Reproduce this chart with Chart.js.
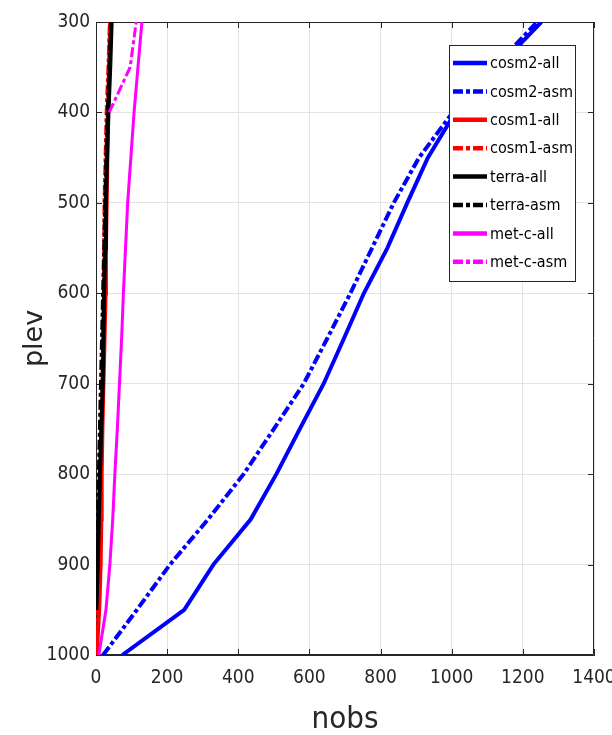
<!DOCTYPE html>
<html>
<head>
<meta charset="utf-8">
<script src="https://cdn.jsdelivr.net/npm/chart.js@4.4.1/dist/chart.umd.min.js"></script>
<style>
  html, body { margin: 0; padding: 0; background: #fff; }
  #wrap { width: 612px; height: 735px; position: relative; }
</style>
</head>
<body>
<div id="wrap"><canvas id="chart"></canvas></div>
<script>
// pressure levels (hPa) and number of observations per series
const levels = [1000, 950, 900, 850, 800, 750, 700, 650, 600, 550, 500, 450, 400, 350, 300];
const cosm2All = [74, 248, 330, 435, 507, 573, 640, 697, 753, 819, 875, 933, 1010, 1130, 1252];
const cosm2Asm = [20, 115, 208, 315, 415, 500, 584, 650, 715, 776, 837, 908, 1003, 1120, 1240];
const cosm1All = [2, 9, 13, 15, 16, 18, 21, 24, 27, 28, 30, 32, 34, 37, 40];
const cosm1Asm = [0, 6, 10, 12, 13, 16, 18, 20, 22, 23, 24, 27, 30, 35, 39];
const terraAll = [null, 1, 5, 8, 11, 15, 19, 21, 23, 26, 28, 31, 35, 40, 44];
const terraAsm = [null, 0, 3, 5, 8, 11, 14, 17, 20, 23, 26, 29, 33, 38, 42];
const metcAll = [8, 28, 39, 47, 53, 60, 66, 72, 77, 83, 89, 98, 107, 118, 129];
const metcAsm = [null, null, null, null, null, null, null, null, null, null, null, null, 37, 96, 113];

const seriesNames = ['cosm2-all', 'cosm2-asm', 'cosm1-all', 'cosm1-asm', 'terra-all', 'terra-asm', 'met-c-all', 'met-c-asm'];
const seriesValues = [cosm2All, cosm2Asm, cosm1All, cosm1Asm, terraAll, terraAsm, metcAll, metcAsm];
const seriesColors = ['#0000ff', '#0000ff', '#ff0000', '#ff0000', '#000000', '#000000', '#ff00ff', '#ff00ff'];

const xTicks = [0, 200, 400, 600, 800, 1000, 1200, 1400];
const yTicks = [300, 400, 500, 600, 700, 800, 900, 1000];

const dashDot = [10, 3, 4, 3];
const narrow = "'Liberation Sans Narrow', 'DejaVu Sans Condensed', 'Arial Narrow', sans-serif";
const axisColor = '#262626';

function toPoints(vals) {
    const pts = [];
    vals.forEach(function(v, i) {
        if (v !== null) pts.push({x: v, y: levels[i]});
    });
    return pts;
}

const datasets = seriesNames.map(function(name, i) {
    const isAsm = name.endsWith('asm');
    return {
        label: name,
        data: toPoints(seriesValues[i]),
        borderColor: seriesColors[i],
        backgroundColor: seriesColors[i],
        borderWidth: name.startsWith('met') ? 3 : 4,
        borderDash: isAsm ? dashDot : [],
        pointRadius: 0,
        showLine: true,
        fill: false,
        tension: 0,
        order: seriesNames.length - i // later series on top, like matlab
    };
});

// axes box + inward ticks (matlab style)
const framePlugin = {
    id: 'frame',
    beforeDatasetsDraw(chart) {
        const {ctx, chartArea: a, scales} = chart;
        ctx.save();
        ctx.strokeStyle = axisColor;
        ctx.lineWidth = 1;
        ctx.beginPath();
        ctx.rect(a.left + 0.5, a.top + 0.5, a.right - a.left - 1, a.bottom - a.top - 1);
        const tl = 6;
        xTicks.forEach(function(t) {
            const x = Math.round(scales.x.getPixelForValue(t)) + 0.5;
            ctx.moveTo(x, a.bottom); ctx.lineTo(x, a.bottom - tl);
            ctx.moveTo(x, a.top); ctx.lineTo(x, a.top + tl);
        });
        yTicks.forEach(function(t) {
            const y = Math.round(scales.y.getPixelForValue(t)) + 0.5;
            ctx.moveTo(a.left, y); ctx.lineTo(a.left + tl, y);
            ctx.moveTo(a.right, y); ctx.lineTo(a.right - tl, y);
        });
        ctx.stroke();
        ctx.restore();
    }
};

const legendPlugin = {
    id: 'boxLegend',
    afterDraw(chart) {
        const ctx = chart.ctx;
        const bx = 449.5, by = 45.5, bw = 126, bh = 236;
        ctx.save();
        ctx.fillStyle = '#ffffff';
        ctx.strokeStyle = axisColor;
        ctx.lineWidth = 1;
        ctx.fillRect(bx, by, bw, bh);
        ctx.strokeRect(bx, by, bw, bh);
        ctx.font = '16px ' + narrow;
        ctx.textBaseline = 'middle';
        chart.data.datasets.forEach(function(ds, i) {
            const y = 63 + i * 28.4;
            ctx.beginPath();
            ctx.strokeStyle = ds.borderColor;
            ctx.lineWidth = 4.5;
            ctx.setLineDash(ds.borderDash);
            ctx.moveTo(453, y);
            ctx.lineTo(487, y);
            ctx.stroke();
            ctx.setLineDash([]);
            ctx.fillStyle = '#000000';
            ctx.fillText(ds.label, 490, y + 1);
        });
        ctx.restore();
    }
};

new Chart(document.getElementById('chart'), {
    type: 'scatter',
    data: {datasets: datasets},
    options: {
        responsive: true,
        maintainAspectRatio: false,
        animation: false,
        layout: {padding: {top: 22, right: 18, left: 0, bottom: 0}},
        plugins: {
            legend: {display: false},
            tooltip: {enabled: false}
        },
        scales: {
            x: {
                type: 'linear',
                min: 0,
                max: 1400,
                afterBuildTicks: function(s) { s.ticks = xTicks.map(function(v) { return {value: v}; }); },
                afterFit: function(s) { s.height = 80; s.paddingLeft = 0; s.paddingRight = 0; },
                ticks: {
                    font: {family: narrow, size: 19},
                    color: axisColor,
                    padding: 12,
                    maxRotation: 0,
                    callback: function(v) { return String(v); }
                },
                grid: {color: '#e3e3e3', drawTicks: false},
                border: {color: axisColor, width: 1},
                title: {
                    display: true,
                    text: 'nobs',
                    font: {family: narrow, size: 31},
                    color: '#262626',
                    padding: {top: 0, bottom: -4}
                }
            },
            y: {
                type: 'linear',
                reverse: true,
                min: 300,
                max: 1000,
                afterBuildTicks: function(s) { s.ticks = yTicks.map(function(v) { return {value: v}; }); },
                afterFit: function(s) { s.width = 96; s.paddingTop = 0; s.paddingBottom = 0; },
                ticks: {
                    font: {family: narrow, size: 19},
                    color: axisColor,
                    padding: 6,
                    callback: function(v) { return String(v); }
                },
                grid: {color: '#e3e3e3', drawTicks: false},
                border: {color: axisColor, width: 1},
                title: {
                    display: true,
                    text: 'plev',
                    font: {family: "'DejaVu Sans', sans-serif", size: 27},
                    color: '#262626',
                    padding: {top: 19, bottom: 0}
                }
            }
        }
    },
    plugins: [framePlugin, legendPlugin]
});
</script>
</body>
</html>
